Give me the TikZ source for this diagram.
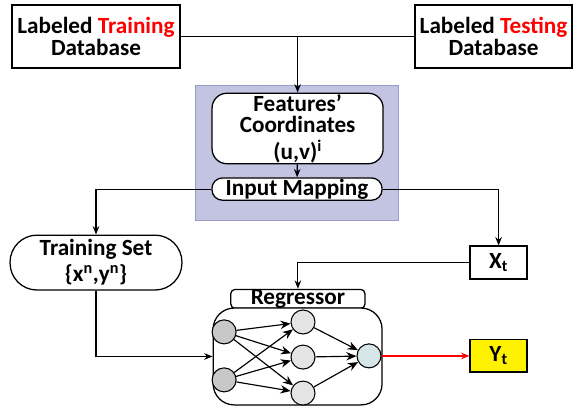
\documentclass[tikz,border=0pt]{standalone}
\usepackage{fontspec}
\setmainfont{Carlito}
\usepackage{xcolor}
\usetikzlibrary{arrows.meta,positioning,backgrounds}
\definecolor{lav}{HTML}{C3C3E2}
\definecolor{lavline}{HTML}{9A9ACB}
\definecolor{ingray}{HTML}{C8C8C8}
\definecolor{hidgray}{HTML}{E4E4E4}
\definecolor{outgray}{HTML}{D6E6E6}
\tikzset{
  pbox/.style={draw=black,line width=1.2pt,fill=white,align=center,inner sep=1pt},
  rbox/.style={pbox,rounded corners=10pt},
  neur/.style={circle,draw=black,line width=1pt,minimum size=0.8cm,inner sep=0pt},
  parr/.style={-{Stealth[length=2.8mm,width=2.2mm]},line width=1.1pt,draw=black},
  narr/.style={-{Stealth[length=3.4mm,width=2.8mm]},line width=1.1pt,draw=black}
}
\begin{document}
\begin{tikzpicture}[font=\bfseries\fontsize{22}{21.5}\selectfont]
  \useasboundingbox (0,0) rectangle (19.3,13.733);
  \fill[lav,draw=lavline,line width=0.8pt] (6.53,6.4) rectangle (13.27,10.9);
  \node[pbox,minimum width=5.6cm,minimum height=2.1cm] (trdb) at (3.2,12.52) {Labeled \textcolor{red}{Training}\\ Database};
  \node[pbox,minimum width=5.23cm,minimum height=2.1cm] (tsdb) at (16.45,12.52) {Labeled \textcolor{red}{Testing}\\ Database};
  \node[rbox,rounded corners=14pt,minimum width=5.7cm,minimum height=2.23cm] (feat) at (9.92,9.45) {Features'\\[-1pt] Coordinates\\[3.5pt] (u,v)\textsuperscript{i}};
  \node[rbox,minimum width=5.67cm,minimum height=0.73cm] (imap) at (9.9,7.43) {Input Mapping};
  \node[rbox,rounded corners=0.9cm,minimum width=5.73cm,minimum height=1.83cm] (tset) at (3.2,4.98) {Training Set\\[3pt] \{x\textsuperscript{n},y\textsuperscript{n}\}};
  \node[pbox,minimum width=1.9cm,minimum height=1.1cm] (xt) at (16.62,4.98) {X\textsubscript{t}};
  \node[rbox,rounded corners=4pt,minimum width=4.47cm,minimum height=0.6cm,inner sep=0pt] (reg) at (9.93,3.77) {Regressor};
  \node[rbox,rounded corners=20pt,minimum width=5.63cm,minimum height=3.23cm] (net) at (9.92,1.85) {};
  \node[pbox,fill=yellow,minimum width=1.9cm,minimum height=1.07cm] (yt) at (16.62,1.87) {Y\textsubscript{t}};
  \coordinate (jn) at (feat.north |- trdb.east);
  % network
  \node[neur,fill=ingray] (i1) at (7.47,2.67) {};
  \node[neur,fill=ingray] (i2) at (7.47,1.07) {};
  \node[neur,fill=hidgray] (h1) at (10.1,3.0) {};
  \node[neur,fill=hidgray] (h2) at (10.1,1.83) {};
  \node[neur,fill=hidgray] (h3) at (10.1,0.63) {};
  \node[neur,fill=outgray] (o) at (12.3,1.87) {};
  \foreach \i in {i1,i2}
    \foreach \h in {h1,h2,h3}
      \draw[narr] (\i) -- (\h);
  \foreach \h in {h1,h2,h3}
    \draw[narr] (\h) -- (o);
  % connectors
  \draw[line width=1.2pt] (trdb.east) -- (tsdb.west);
  \draw[parr] (jn) -- (feat.north);
  \draw[parr] (feat) -- (imap);
  \draw[parr] (imap.west) -| (tset.north);
  \draw[parr] (imap.east) -| (xt.north);
  \draw[parr] (xt.west) -| (reg.north);
  \draw[parr] (tset.south) |- (net.west);
  \draw[parr,draw=red,line width=1.3pt] (o) -- (yt);
\end{tikzpicture}
\end{document}
